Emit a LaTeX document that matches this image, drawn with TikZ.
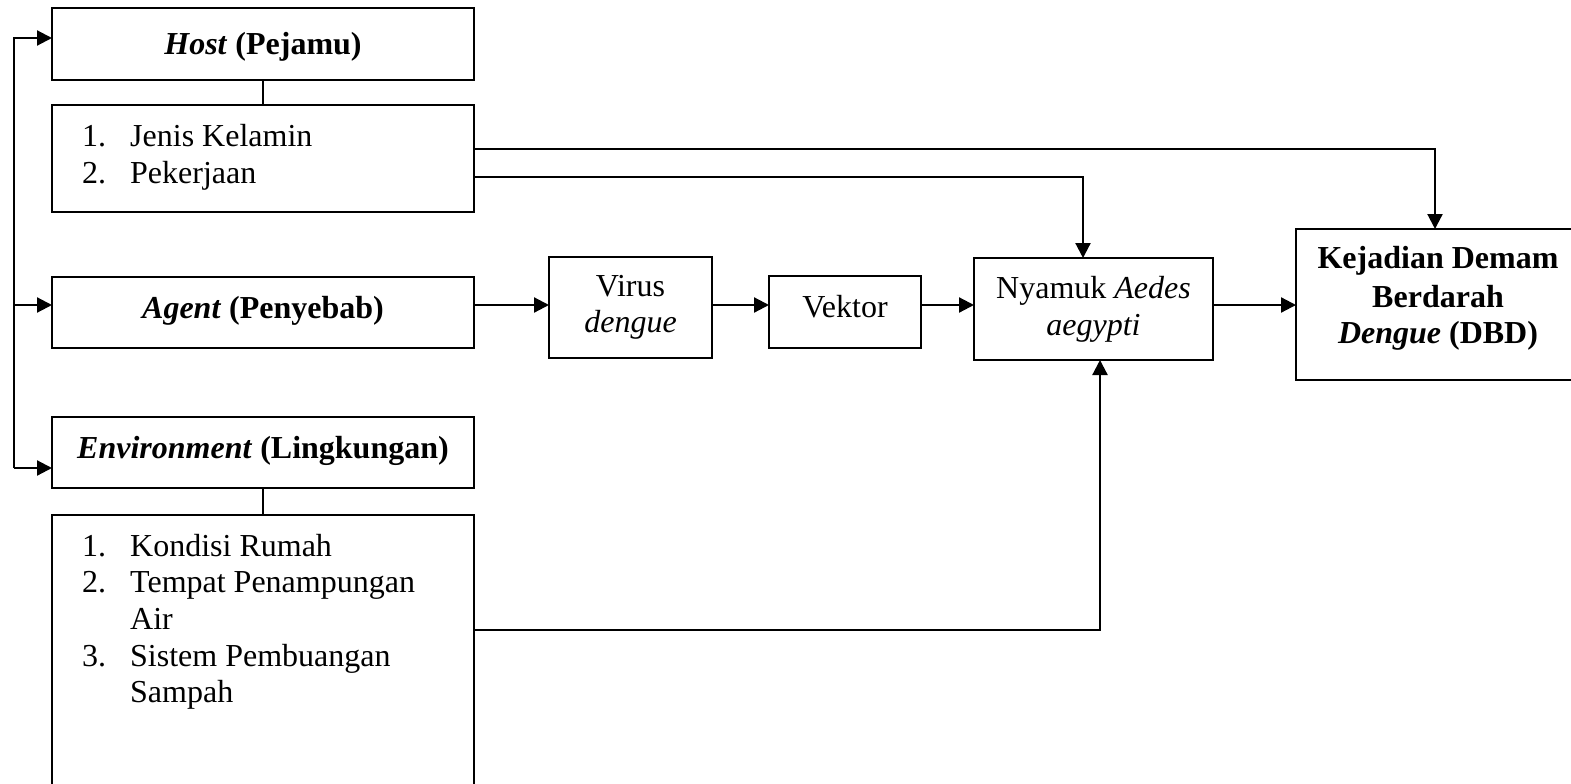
\documentclass[tikz,border=0pt]{standalone}
\usepackage{fontspec}
\setmainfont{Liberation Serif}
\usetikzlibrary{arrows.meta}
\begin{document}
\begin{tikzpicture}[x=1pt,y=-1pt,
 box/.style={draw, line width=2.2pt, rectangle, inner sep=0pt, outer sep=0pt},
 txt/.style={inner sep=0pt, anchor=base, font=\fontsize{32}{37}\selectfont},
 ltxt/.style={inner sep=0pt, anchor=base west, font=\fontsize{32}{37}\selectfont},
 line/.style={line width=2.2pt},
 arr/.style={line width=2.2pt, -{Triangle[length=15pt,width=15pt]}},
]
\useasboundingbox (0,0) rectangle (1571,784);
\clip (0,0) rectangle (1571,784);
% boxes
\node[box, minimum width=422pt, minimum height=72pt] (host) at (263,44) {};
\node[box, minimum width=422pt, minimum height=107pt] (hlist) at (263,158.5) {};
\node[box, minimum width=422pt, minimum height=71pt] (agent) at (263,312.5) {};
\node[box, minimum width=422pt, minimum height=71pt] (env) at (263,452.5) {};
\node[box, minimum width=422pt, minimum height=285pt] (elist) at (263,657.5) {};
\node[box, minimum width=163pt, minimum height=101pt] (virus) at (630.5,307.5) {};
\node[box, minimum width=152pt, minimum height=72pt] (vektor) at (845,312) {};
\node[box, minimum width=239pt, minimum height=102pt] (nyamuk) at (1093.5,309) {};
\node[box, minimum width=284pt, minimum height=151pt] (dbd) at (1438,304.5) {};
% texts
\node[txt] (thost) at (263,55) {\textbf{\textit{Host}} \textbf{(Pejamu)}};
\node[ltxt] (h1n) at (82,146) {1.};
\node[ltxt] (h1t) at (130,146) {Jenis Kelamin};
\node[ltxt] (h2n) at (82,183) {2.};
\node[ltxt] (h2t) at (130,183) {Pekerjaan};
\node[txt] (tagent) at (263,318) {\textbf{\textit{Agent}} \textbf{(Penyebab)}};
\node[txt] (tenv) at (263,458) {\textbf{\textit{Environment}} \textbf{(Lingkungan)}};
\node[ltxt] (e1n) at (82,556) {1.};
\node[ltxt] (e1t) at (130,556) {Kondisi Rumah};
\node[ltxt] (e2n) at (82,592) {2.};
\node[ltxt] (e2t) at (130,592) {Tempat Penampungan};
\node[ltxt] (e2u) at (130,629) {Air};
\node[ltxt] (e3n) at (82,666) {3.};
\node[ltxt] (e3t) at (130,666) {Sistem Pembuangan};
\node[ltxt] (e3u) at (130,702) {Sampah};
\node[txt] (tv1) at (630.5,296) {Virus};
\node[txt] (tv2) at (630.5,332) {\textit{dengue}};
\node[txt] (tvek) at (845,317) {Vektor};
\node[txt] (tn1) at (1093.5,298) {Nyamuk \textit{Aedes}};
\node[txt] (tn2) at (1093.5,335) {\textit{aegypti}};
\node[txt] (td1) at (1438,268) {\textbf{Kejadian Demam}};
\node[txt] (td2) at (1438,307) {\textbf{Berdarah}};
\node[txt] (td3) at (1438,343) {\textbf{\textit{Dengue}} \textbf{(DBD)}};
% connectors
\draw[line] (host.south) -- (hlist.north);
\draw[line] (env.south) -- (elist.north);
\coordinate (lt) at (14,38);
\coordinate (lm) at (14,305);
\coordinate (lb) at (14,468);
\draw[arr] (lb) -- (lt) -- (lt -| host.west);
\draw[arr] (lm) -- (lm -| agent.west);
\draw[arr] (lb) -- (lb -| env.west);
\coordinate (m) at (0,305);
\draw[arr] (m -| agent.east) -- (m -| virus.west);
\draw[arr] (m -| virus.east) -- (m -| vektor.west);
\draw[arr] (m -| vektor.east) -- (m -| nyamuk.west);
\draw[arr] (m -| nyamuk.east) -- (m -| dbd.west);
\coordinate (j) at (1435,149);
\draw[arr] (j -| hlist.east) -- (j) -- (j |- dbd.north);
\coordinate (p) at (1083,177);
\draw[arr] (p -| hlist.east) -- (p) -- (p |- nyamuk.north);
\coordinate (e) at (1100,630);
\draw[arr] (e -| elist.east) -- (e) -- (e |- nyamuk.south);
\end{tikzpicture}
\end{document}
